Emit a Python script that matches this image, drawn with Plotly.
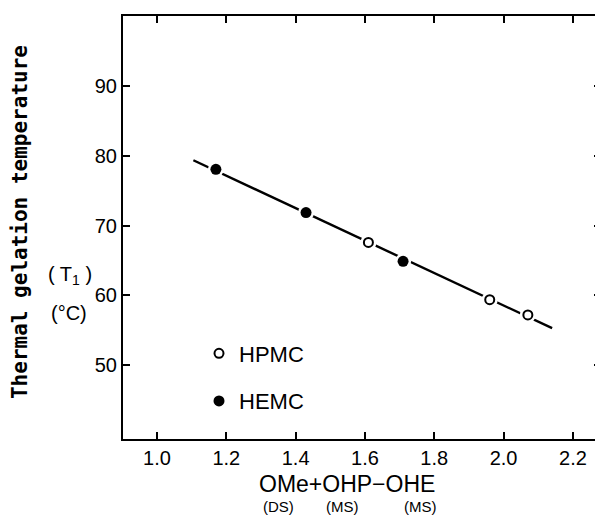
import plotly.graph_objects as go

# Data
hemc_x = [1.17, 1.43, 1.71]
hemc_y = [78.1, 71.9, 64.9]
hpmc_x = [1.61, 1.96, 2.07]
hpmc_y = [67.6, 59.4, 57.2]
fit_x = [1.105, 2.14]
fit_y = [79.4, 55.3]
x_ticks = [1.0, 1.2, 1.4, 1.6, 1.8, 2.0, 2.2]
x_tick_labels = ["1.0", "1.2", "1.4", "1.6", "1.8", "2.0", "2.2"]
y_ticks = [50, 60, 70, 80, 90]
y_tick_labels = ["50", "60", "70", "80", "90"]

FONT = "Liberation Sans Narrow, Arial Narrow, Liberation Sans, Arial, sans-serif"

fig = go.Figure()
fig.add_trace(go.Scatter(x=fit_x, y=fit_y, mode="lines",
                         line=dict(color="black", width=2.4), showlegend=False, hoverinfo="skip"))
# white halos to make small gaps in the line around markers
fig.add_trace(go.Scatter(x=hpmc_x + hemc_x, y=hpmc_y + hemc_y, mode="markers",
                         marker=dict(color="white", size=16, line=dict(width=0)),
                         showlegend=False, hoverinfo="skip"))
fig.add_trace(go.Scatter(x=hpmc_x, y=hpmc_y, mode="markers", name="HPMC",
                         marker=dict(symbol="circle", color="white", size=9,
                                     line=dict(color="black", width=2)),
                         legendgroup="a"))
fig.add_trace(go.Scatter(x=hemc_x, y=hemc_y, mode="markers", name="HEMC",
                         marker=dict(symbol="circle", color="black", size=11,
                                     line=dict(color="black", width=0)),
                         legendgroup="b"))

axis_common = dict(showline=True, linecolor="black", linewidth=2, mirror="ticks",
                   ticks="inside", ticklen=7, tickwidth=2, tickcolor="black",
                   showgrid=False, zeroline=False,
                   tickfont=dict(family=FONT, size=20, color="black"))

fig.update_xaxes(range=[0.902, 2.281], tickvals=x_ticks, ticktext=x_tick_labels, **axis_common)
fig.update_yaxes(range=[39.4, 100.1], tickvals=y_ticks, ticktext=y_tick_labels, **axis_common)

# page body has an 8px margin; convert screen pixels to paper fractions
def px_x(p):
    return (p - 123) / 478.0

def px_y(p):
    return (439 - p) / 425.0

annotations = [
    dict(text="Thermal gelation temperature", x=px_x(20), y=px_y(221), textangle=-90,
         font=dict(family="DejaVu Sans Mono", size=21, color="black", weight="bold")),
    dict(text="( T<sub>1</sub> )", x=px_x(70), y=px_y(275),
         font=dict(family=FONT, size=20, color="black")),
    dict(text="(°C)", x=px_x(69), y=px_y(312),
         font=dict(family=FONT, size=20, color="black")),
    dict(text="OMe+OHP−OHE", x=px_x(347), y=px_y(484),
         font=dict(family=FONT, size=23, color="black")),
    dict(text="(DS)", x=px_x(278), y=px_y(507), font=dict(family=FONT, size=15, color="black")),
    dict(text="(MS)", x=px_x(342), y=px_y(507), font=dict(family=FONT, size=15, color="black")),
    dict(text="(MS)", x=px_x(420), y=px_y(507), font=dict(family=FONT, size=15, color="black")),
]
for a in annotations:
    a.update(xref="paper", yref="paper", showarrow=False, xanchor="center", yanchor="middle")

fig.update_layout(
    width=603, height=516,
    margin=dict(l=115, r=10, t=6, b=85),
    plot_bgcolor="white", paper_bgcolor="white",
    annotations=annotations,
    showlegend=True,
    legend=dict(x=px_x(199), y=px_y(332), xanchor="left", yanchor="top",
                bgcolor="rgba(0,0,0,0)", font=dict(family=FONT, size=22, color="black"),
                tracegroupgap=16),
)

fig.write_html("out.html")
